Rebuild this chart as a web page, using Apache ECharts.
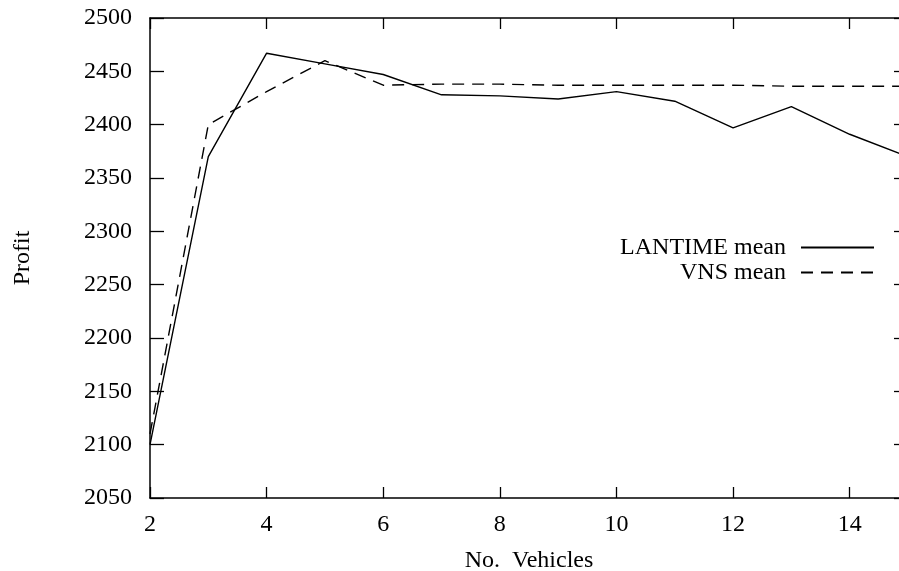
<!DOCTYPE html>
<html>
<head>
<meta charset="utf-8">
<script src="https://cdn.jsdelivr.net/npm/echarts@6/dist/echarts.min.js"></script>
<style>
html,body{margin:0;padding:0;background:#fff;}
#chart{width:899px;height:571px;}
</style>
</head>
<body>
<div id="chart"></div>
<script>
const vehicles = [2,3,4,5,6,7,8,9,10,11,12,13,14,15];
const lantimeMean = [2100,2370,2467,2457,2447,2428,2427,2424,2431,2422,2397,2417,2391,2370];
const vnsMean = [2110,2400,2431,2460,2437,2438,2438,2437,2437,2437,2437,2436,2436,2436];
const seriesNames = ['LANTIME mean', 'VNS mean'];

const FONT = 'Liberation Serif';
const FS = 24;
const chart = echarts.init(document.getElementById('chart'), null, {renderer:'canvas'});
const axisLine = {show:true, lineStyle:{color:'#000', width:1.5}};
const pairs = (ys) => vehicles.map((x,i)=>[x, ys[i]]);
const plain = (v) => String(v);

chart.setOption({
  animation:false,
  backgroundColor:'#fff',
  textStyle:{fontFamily:FONT, color:'#000'},
  grid:{left:150, width:758, top:18, height:480, containLabel:false, outerBoundsMode:'none'},
  legend:{
    orient:'vertical', right:24, top:235, align:'right', padding:0,
    itemWidth:73, itemHeight:14, itemGap:0,
    itemStyle:{opacity:0},
    textStyle:{fontFamily:FONT, fontSize:FS, color:'#000', lineHeight:25, padding:[0,10,0,0]},
    data:seriesNames
  },
  xAxis:[{
    type:'value', min:2, max:15, interval:2,
    name:'No.  Vehicles', nameLocation:'middle', nameGap:51,
    nameTextStyle:{fontFamily:FONT, fontSize:FS, color:'#000'},
    axisLine:axisLine,
    axisTick:{show:true, inside:true, length:11, lineStyle:{color:'#000', width:1.3}},
    axisLabel:{fontFamily:FONT, fontSize:FS, color:'#000', margin:15, showMaxLabel:false, formatter:plain},
    splitLine:{show:false}
  },{
    type:'value', min:2, max:15, interval:2, position:'top',
    axisLine:axisLine,
    axisTick:{show:true, inside:true, length:11, lineStyle:{color:'#000', width:1.3}},
    axisLabel:{show:false}, splitLine:{show:false}
  }],
  yAxis:[{
    type:'value', min:2050, max:2500, interval:50,
    name:'Profit', nameLocation:'middle', nameGap:115, nameRotate:90,
    nameTextStyle:{fontFamily:FONT, fontSize:FS, color:'#000'},
    axisLine:axisLine,
    axisTick:{show:true, inside:true, length:14, lineStyle:{color:'#000', width:1.3}},
    axisLabel:{fontFamily:FONT, fontSize:FS, color:'#000', margin:18, formatter:plain},
    splitLine:{show:false}
  },{
    type:'value', min:2050, max:2500, interval:50, position:'right',
    axisLine:axisLine,
    axisTick:{show:true, inside:true, length:14, lineStyle:{color:'#000', width:1.3}},
    axisLabel:{show:false}, splitLine:{show:false}
  }],
  series:[{
    name:seriesNames[0], type:'line', symbol:'none', data:pairs(lantimeMean),
    lineStyle:{color:'#000', width:1.4, type:'solid'}, itemStyle:{color:'#000'}
  },{
    name:seriesNames[1], type:'line', symbol:'none', data:pairs(vnsMean),
    lineStyle:{color:'#000', width:1.4, type:[12,8]}, itemStyle:{color:'#000'}
  }]
});
</script>
</body>
</html>
